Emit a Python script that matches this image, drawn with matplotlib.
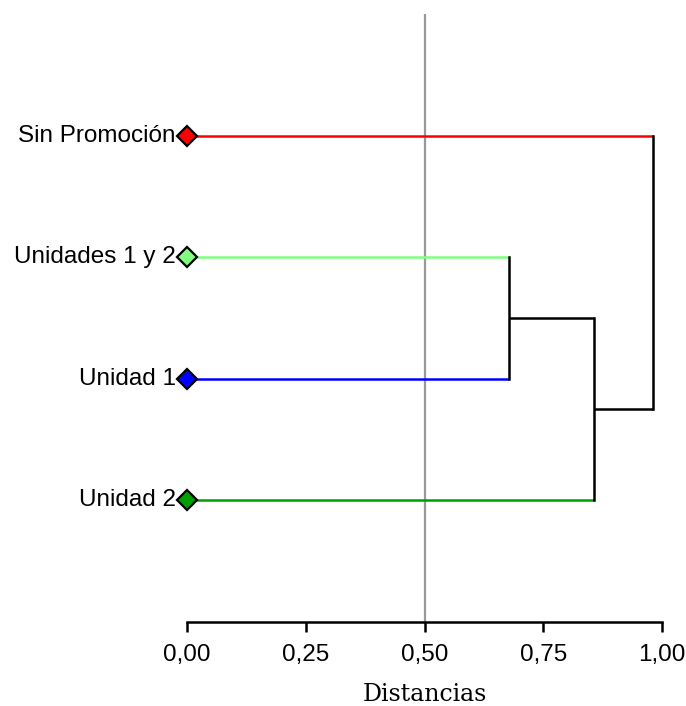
import matplotlib
matplotlib.use("Agg")
import matplotlib.pyplot as plt

# Data
labels = ["Sin Promoción", "Unidades 1 y 2", "Unidad 1", "Unidad 2"]
leaf_colors = ["#ff0000", "#80ff80", "#0000ff", "#00a000"]
# merges: (node a, node b, distance); new nodes numbered after leaves
merges = [(1, 2, 0.678), (4, 3, 0.857), (0, 5, 0.981)]
ticks = [0.0, 0.25, 0.5, 0.75, 1.0]
tick_labels = ["0,00", "0,25", "0,50", "0,75", "1,00"]
cut_line = 0.5

fig = plt.figure(figsize=(6.86, 7.06), dpi=100)
ax = fig.add_axes([187/686, (706-622)/706, 475/686, (622-14)/706])

# node positions (height, y)
pos = {i: (0.0, i + 1) for i in range(len(labels))}
for k, (a, b, d) in enumerate(merges):
    ha, ya = pos[a]
    hb, yb = pos[b]
    for node, (h, y) in ((a, pos[a]), (b, pos[b])):
        col = leaf_colors[node] if node < len(labels) else "black"
        ax.plot([h, d], [y, y], color=col, lw=1.8, solid_capstyle="butt", zorder=2)
    ax.plot([d, d], [ya, yb], color="black", lw=1.8, zorder=3)
    pos[len(labels) + k] = (d, (ya + yb) / 2)

ax.axvline(cut_line, color="#999999", lw=1.6, zorder=1)

for i, (lab, col) in enumerate(zip(labels, leaf_colors)):
    ax.plot(0, i + 1, marker="D", ms=10.5, mfc=col, mec="black", mew=1.6,
            zorder=5, clip_on=False)
    ax.text(-0.024, i + 1, lab, ha="right", va="center", fontsize=17.5,
            family="Liberation Sans")

ax.set_xlim(0, 1)
ax.set_ylim(5, 0)
for s in ["top", "right", "left"]:
    ax.spines[s].set_visible(False)
ax.spines["bottom"].set_linewidth(1.8)
ax.set_yticks([])
ax.set_xticks(ticks)
ax.set_xticklabels(tick_labels, fontsize=17.5, family="Liberation Sans")
ax.tick_params(axis="x", length=7, width=1.8, pad=9)
ax.set_xlabel("Distancias", fontsize=17, family="DejaVu Serif", labelpad=12)

fig.savefig("out.png", dpi=100)
